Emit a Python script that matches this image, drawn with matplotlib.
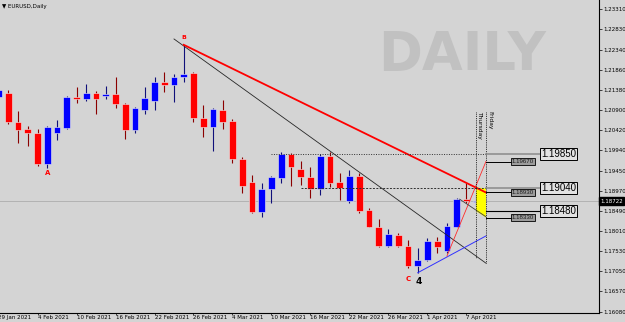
import matplotlib.pyplot as plt
import matplotlib.transforms as mtransforms
from matplotlib.patches import Rectangle, Polygon

# EURUSD 日线数据（从图上读取，29 Jan 2021 起，索引 0..49）
opens = [1.2122, 1.2132, 1.2062, 1.2045, 1.2036, 1.1962, 1.2036, 1.2048, 1.2121, 1.2117,
         1.2132, 1.2124, 1.2128, 1.2105, 1.2042, 1.2090, 1.2112, 1.2158, 1.2150, 1.2168,
         1.2178, 1.2070, 1.2049, 1.2090, 1.2065, 1.1972, 1.1919, 1.1847, 1.1901, 1.1928,
         1.1985, 1.1948, 1.1931, 1.1902, 1.1980, 1.1918, 1.1873, 1.1932, 1.1851, 1.1811,
         1.1765, 1.1791, 1.1765, 1.1716, 1.1732, 1.1777, 1.1753, 1.1810, 1.1877, 1.1871]
highs = [1.2152, 1.2138, 1.2088, 1.2052, 1.2044, 1.2053, 1.2066, 1.2124, 1.2146, 1.2152,
         1.2136, 1.2148, 1.2170, 1.2108, 1.2097, 1.2145, 1.2170, 1.2182, 1.2176, 1.2246,
         1.2182, 1.2102, 1.2094, 1.2114, 1.2068, 1.1979, 1.1935, 1.1916, 1.1932, 1.1990,
         1.1988, 1.1968, 1.1953, 1.1985, 1.1990, 1.1939, 1.1947, 1.1940, 1.1855, 1.1829,
         1.1806, 1.1795, 1.1779, 1.1761, 1.1784, 1.1787, 1.1821, 1.1879, 1.1915, 1.1889]
lows = [1.2114, 1.2056, 1.2012, 1.2004, 1.1956, 1.1952, 1.2018, 1.2044, 1.2108, 1.2112,
        1.2081, 1.2116, 1.2094, 1.2022, 1.2036, 1.2081, 1.2090, 1.2134, 1.2109, 1.2156,
        1.2062, 1.2026, 1.1993, 1.2044, 1.1963, 1.1892, 1.1843, 1.1835, 1.1869, 1.1916,
        1.1909, 1.1911, 1.1880, 1.1886, 1.1907, 1.1874, 1.1869, 1.1843, 1.1810, 1.1762,
        1.1762, 1.1762, 1.1712, 1.1701, 1.1730, 1.1749, 1.1749, 1.1810, 1.1867, 1.1861]
closes = [1.2138, 1.2061, 1.2042, 1.2035, 1.1962, 1.2050, 1.2050, 1.2121, 1.2117, 1.2132,
          1.2117, 1.2128, 1.2104, 1.2042, 1.2094, 1.2118, 1.2158, 1.2150, 1.2168, 1.2176,
          1.2072, 1.2049, 1.2092, 1.2062, 1.1972, 1.1909, 1.1847, 1.1901, 1.1929, 1.1985,
          1.1953, 1.1931, 1.1902, 1.1980, 1.1916, 1.1904, 1.1932, 1.1849, 1.1811, 1.1765,
          1.1794, 1.1765, 1.1716, 1.1732, 1.1777, 1.1762, 1.1813, 1.1877, 1.1872, 1.18722]

date_pos = [0, 4, 8, 12, 16, 20, 24, 28, 32, 36, 40, 44, 48]
date_labels = ['29 Jan 2021', '4 Feb 2021', '10 Feb 2021', '16 Feb 2021', '22 Feb 2021',
               '26 Feb 2021', '4 Mar 2021', '10 Mar 2021', '16 Mar 2021', '22 Mar 2021',
               '26 Mar 2021', '1 Apr 2021', '7 Apr 2021']
price_ticks = [1.23310, 1.22830, 1.22340, 1.21860, 1.21380, 1.20900, 1.20420, 1.19940,
               1.19450, 1.18970, 1.18490, 1.18010, 1.17530, 1.17050, 1.16570, 1.16080]

current_price = 1.18722
big_levels = [1.19850, 1.19040, 1.18480]
small_levels = [1.19670, 1.18930, 1.18330]

BG = '#d4d4d4'
UP, DOWN = '#0000ff', '#ff0000'
UP_WICK, DOWN_WICK = '#10107a', '#8b0000'

fig = plt.figure(figsize=(6.25, 3.22), dpi=100, facecolor=BG)
ax = fig.add_axes([0, 9 / 322, 599 / 625, 313 / 322])
ax.set_facecolor(BG)
ax.set_xlim(0.149, 61.6)
ax.set_ylim(1.16048, 1.23532)

# 水印
ax.text(47.6, 1.2222, 'DAILY', fontsize=38, fontweight='bold', color='#c1c1c1',
        ha='center', va='center', zorder=0)

# 当前价格线
ax.axhline(current_price, color='#b2b2b2', lw=0.7, zorder=0.5)

# K线
for i in range(len(opens)):
    o, h, l, c = opens[i], highs[i], lows[i], closes[i]
    up = c >= o
    ax.vlines(i, l, h, color=UP_WICK if up else DOWN_WICK, lw=0.8, zorder=2)
    body = max(abs(c - o), 0.00012)
    ax.add_patch(Rectangle((i - 0.34, min(o, c)), 0.68, body,
                           facecolor=UP if up else DOWN, edgecolor='#eeeeee',
                           lw=0.4, zorder=3))

# 趋势线
ax.plot([18, 50], [1.2260, 1.1724], color='#262626', lw=0.6, zorder=4)
ax.plot([19, 50], [1.2246, 1.1893], color='#ff0000', lw=1.3, zorder=4)
ax.plot([43, 50], [1.1701, 1.1789], color='#3030ff', lw=0.7, zorder=4)
ax.plot([46, 50], [1.1741, 1.1967], color='#ff2a2a', lw=0.6, zorder=4)
ax.plot([47.3, 50], [1.1877, 1.1835], color='#404040', lw=0.6, zorder=4)

# 黄色区域
ax.add_patch(Polygon([(49, 1.1905), (50, 1.1903), (50, 1.1833), (49, 1.1848)],
                     closed=True, facecolor='#ffff00', edgecolor='none', zorder=3.5))

# 水平虚线
ax.plot([28, 50], [1.1985, 1.1985], color='#303030', lw=0.7, ls=(0, (1, 1.5)), zorder=4)
ax.plot([31, 50], [1.1904, 1.1904], color='#303030', lw=0.7, ls=(0, (2, 1.5)), zorder=4)

# 周四 / 周五 竖线
ax.plot([49, 49], [1.2086, 1.1736], color='black', lw=0.6, ls=(0, (1, 1.2)), zorder=4)
ax.plot([50, 50], [1.2086, 1.1724], color='black', lw=0.6, ls=(0, (1, 1.2)), zorder=4)
ax.text(49.1, 1.2088, 'Thursday', rotation=270, fontsize=4.3, ha='left', va='top')
ax.text(50.1, 1.2088, 'Friday', rotation=270, fontsize=4.3, ha='left', va='top')

# 价格标签
for v in big_levels:
    col = 'black' if v == 1.18480 else '#8a8a8a'
    ax.plot([50, 55.6], [v, v], color=col, lw=1.1 if col != 'black' else 0.8, zorder=4)
    ax.text(55.65, v, f'{v:.5f}', fontsize=7, family='Liberation Sans', ha='left',
            va='center', zorder=5,
            bbox=dict(boxstyle='square,pad=0.12', fc='#e2e2e2', ec='black', lw=0.7))
for v in small_levels:
    ax.plot([50, 52.6], [v, v], color='black', lw=0.7, zorder=4)
    ax.text(52.65, v, f'{v:.5f}', fontsize=4.4, family='Liberation Sans', ha='left',
            va='center', color='#1a1a1a', zorder=5,
            bbox=dict(boxstyle='square,pad=0.15', fc='#9c9c9c', ec='black', lw=0.6))

# 标记点
ax.text(5, 1.1940, 'A', color='#ff0000', fontsize=5, fontweight='bold', ha='center', va='center')
ax.text(19, 1.2263, 'B', color='#ff0000', fontsize=4.5, fontweight='bold', ha='center', va='center')
ax.text(42, 1.1686, 'C', color='#ff0000', fontsize=5, fontweight='bold', ha='center', va='center')
ax.text(43.1, 1.1681, '4', color='black', fontsize=6.5, fontweight='bold', ha='center', va='center')

# 标题
ax.text(0.003, 0.988, '▼ EURUSD,Daily', transform=ax.transAxes, fontsize=4,
        ha='left', va='top')

# 坐标轴
for s in ['left', 'top']:
    ax.spines[s].set_visible(False)
for s in ['right', 'bottom']:
    ax.spines[s].set_color('black')
    ax.spines[s].set_linewidth(0.8)

ax.yaxis.tick_right()
ax.set_yticks(price_ticks)
ax.set_yticklabels([f'{v:.5f}' for v in price_ticks])
ax.tick_params(axis='y', direction='out', length=2, width=0.5, pad=1, labelsize=4)

ax.set_xticks(date_pos[1:])
ax.set_xticklabels(date_labels[1:])
ax.tick_params(axis='x', direction='out', length=1.5, width=0.5, pad=0.2, labelsize=4)
for lab in ax.get_xticklabels():
    lab.set_ha('left')
trans = mtransforms.offset_copy(ax.get_xaxis_transform(), fig=fig, y=-1.7, units='points')
ax.text(date_pos[0] - 0.1, 0, date_labels[0], transform=trans, fontsize=4, ha='left', va='top')

# 当前价格标签
ax.text(1.002, current_price, f'{current_price:.5f}',
        transform=ax.get_yaxis_transform(), fontsize=4, color='white', ha='left',
        va='center', zorder=6,
        bbox=dict(boxstyle='square,pad=0.25', fc='black', ec='black'))

fig.savefig('out.png', dpi=100, facecolor=BG)
